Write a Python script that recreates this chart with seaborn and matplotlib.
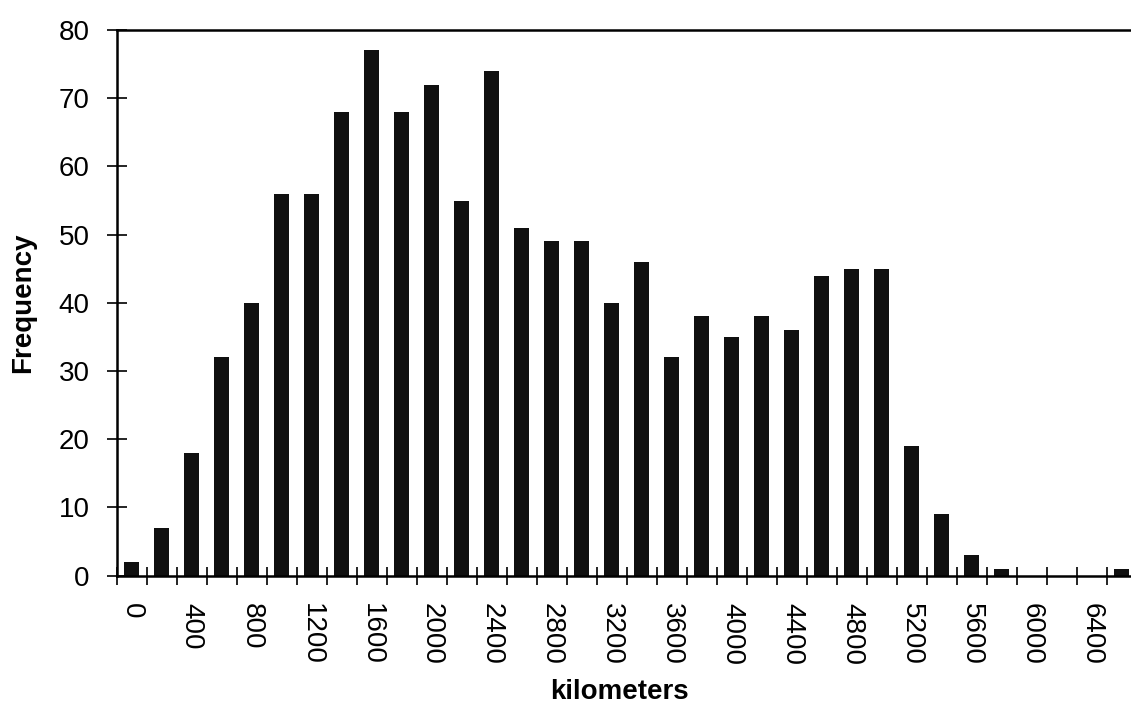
import matplotlib
matplotlib.use("Agg")
import matplotlib.pyplot as plt
import seaborn as sns
import pandas as pd
import numpy as np
from matplotlib.ticker import FixedLocator

# Data: histogram bins (km, lower edge) and frequencies
bins_km = [0, 200, 400, 600, 800, 1000, 1200, 1400, 1600, 1800, 2000, 2200,
           2400, 2600, 2800, 3000, 3200, 3400, 3600, 3800, 4000, 4200, 4400,
           4600, 4800, 5000, 5200, 5400, 5600, 5800, 6000, 6200, 6400, 6600]
frequency = [2, 7, 18, 32, 40, 56, 56, 68, 77, 68, 72, 55,
             74, 51, 49, 49, 40, 46, 32, 38, 35, 38, 36,
             44, 45, 45, 19, 9, 3, 1, 0, 0, 0, 1]
y_ticks = [0, 10, 20, 30, 40, 50, 60, 70, 80]

sns.set_theme(style="white")
plt.rcParams['font.family'] = ['Liberation Sans', 'DejaVu Sans']

df = pd.DataFrame({"km": [str(b) for b in bins_km], "freq": frequency})

fig = plt.figure(figsize=(11.31, 7.08), dpi=100)
W, H = 1131, 708
x0, x1 = 116.7, 1137.0
y_top, y_bot = 30.0, 575.7
ax = fig.add_axes([x0 / W, (H - y_bot) / H, (x1 - x0) / W, (y_bot - y_top) / H])

sns.barplot(data=df, x="km", y="freq", color="#101010", width=0.5,
            saturation=1, ax=ax, order=df["km"].tolist(), edgecolor="none")

n = len(bins_km)
ax.set_xlim(-0.5, n - 0.5)
ax.set_ylim(0, 80)

# y axis
ax.set_yticks(y_ticks)
ax.set_yticklabels([str(v) for v in y_ticks], fontsize=20, color="black")
ax.tick_params(axis="y", direction="inout", length=15, width=1.2,
               color="black", pad=12, left=True)

# x axis: labels every other category, tick marks at category boundaries
lab_idx = list(range(0, n, 2))
ax.set_xticks(lab_idx)
ax.set_xticklabels([str(bins_km[i]) for i in lab_idx], rotation=270,
                   fontsize=20, color="black", va="top", ha="center")
ax.tick_params(axis="x", which="major", length=0, pad=20, bottom=True)
ax.xaxis.set_minor_locator(FixedLocator(np.arange(-0.5, n, 1.0)))
ax.tick_params(axis="x", which="minor", direction="inout", length=13,
               width=1.2, color="black", bottom=True)

for s in ["left", "bottom", "top"]:
    ax.spines[s].set_visible(True)
    ax.spines[s].set_color("black")
    ax.spines[s].set_linewidth(1.8)
ax.spines["right"].set_visible(False)

ax.set_ylabel("Frequency", fontsize=20, fontweight="bold", color="black")
ax.yaxis.set_label_coords((23 - x0) / (x1 - x0), 0.5)
ax.set_xlabel("kilometers", fontsize=20, fontweight="bold", color="black")
ax.xaxis.set_label_coords((619 - x0) / (x1 - x0), -(692 - y_bot) / (y_bot - y_top))
ax.xaxis.label.set_va("center")
ax.yaxis.label.set_va("center")

ax.grid(False)
fig.savefig("out.png", dpi=100)
